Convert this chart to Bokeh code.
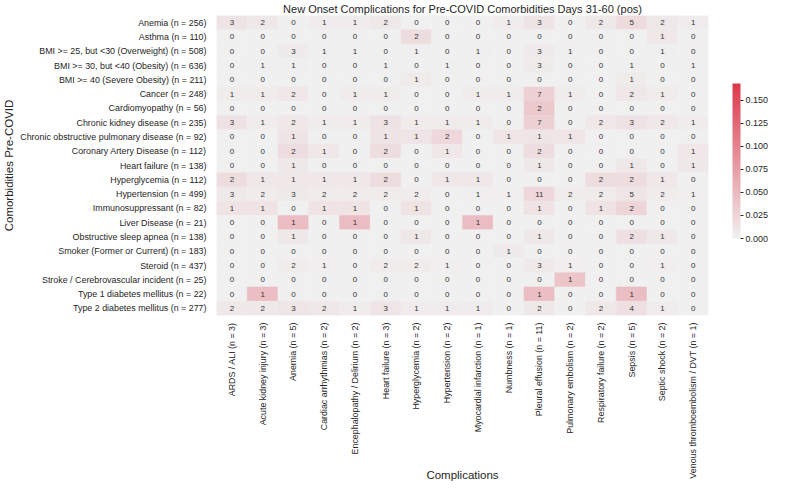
import numpy as np
from bokeh.plotting import figure
from bokeh.models import (FactorRange, LinearColorMapper, ColorBar, FixedTicker,
                          NumeralTickFormatter, ColumnDataSource)
from bokeh.core.properties import value
from bokeh.embed import file_html
from bokeh.resources import INLINE

FONT = "Liberation Sans"
TXT = "#262626"

row_names = ["Anemia", "Asthma", "BMI >= 25, but <30 (Overweight)", "BMI >= 30, but <40 (Obesity)",
             "BMI >= 40 (Severe Obesity)", "Cancer", "Cardiomyopathy", "Chronic kidney disease",
             "Chronic obstructive pulmonary disease", "Coronary Artery Disease", "Heart failure",
             "Hyperglycemia", "Hypertension", "Immunosuppressant", "Liver Disease",
             "Obstructive sleep apnea", "Smoker (Former or Current)", "Steroid",
             "Stroke / Cerebrovascular incident", "Type 1 diabetes mellitus", "Type 2 diabetes mellitus"]
row_n = [256, 110, 508, 636, 211, 248, 56, 235, 92, 112, 138, 112, 499, 82, 21, 138, 183, 437, 25, 22, 277]

col_names = ["ARDS / ALI", "Acute kidney injury", "Anemia", "Cardiac arrhythmias",
             "Encephalopathy / Delirium", "Heart failure", "Hyperglycemia", "Hypertension",
             "Myocardial infarction", "Numbness", "Pleural effusion", "Pulmonary embolism",
             "Respiratory failure", "Sepsis", "Septic shock", "Venous thromboembolism / DVT"]
col_n = [3, 3, 5, 2, 2, 3, 2, 2, 1, 1, 11, 2, 2, 5, 2, 1]

counts = [
    [3, 2, 0, 1, 1, 2, 0, 0, 0, 1, 3, 0, 2, 5, 2, 1],
    [0, 0, 0, 0, 0, 0, 2, 0, 0, 0, 0, 0, 0, 0, 1, 0],
    [0, 0, 3, 1, 1, 0, 1, 0, 1, 0, 3, 1, 0, 0, 1, 0],
    [0, 1, 1, 0, 0, 1, 0, 1, 0, 0, 3, 0, 0, 1, 0, 1],
    [0, 0, 0, 0, 0, 0, 1, 0, 0, 0, 0, 0, 0, 1, 0, 0],
    [1, 1, 2, 0, 1, 1, 0, 0, 1, 1, 7, 1, 0, 2, 1, 0],
    [0, 0, 0, 0, 0, 0, 0, 0, 0, 0, 2, 0, 0, 0, 0, 0],
    [3, 1, 2, 1, 1, 3, 1, 1, 1, 0, 7, 0, 2, 3, 2, 1],
    [0, 0, 1, 0, 0, 1, 1, 2, 0, 1, 1, 1, 0, 0, 0, 0],
    [0, 0, 2, 1, 0, 2, 0, 1, 0, 0, 2, 0, 0, 0, 0, 1],
    [0, 0, 1, 0, 0, 0, 0, 0, 0, 0, 1, 0, 0, 1, 0, 1],
    [2, 1, 1, 1, 1, 2, 0, 1, 1, 0, 0, 0, 2, 2, 1, 0],
    [3, 2, 3, 2, 2, 2, 2, 0, 1, 1, 11, 2, 2, 5, 2, 1],
    [1, 1, 0, 1, 1, 0, 1, 0, 0, 0, 1, 0, 1, 2, 0, 0],
    [0, 0, 1, 0, 1, 0, 0, 0, 1, 0, 0, 0, 0, 0, 0, 0],
    [0, 0, 1, 0, 0, 0, 1, 0, 0, 0, 1, 0, 0, 2, 1, 0],
    [0, 0, 0, 0, 0, 0, 0, 0, 0, 1, 0, 0, 0, 0, 0, 0],
    [0, 0, 2, 1, 0, 2, 2, 1, 0, 0, 3, 1, 0, 0, 1, 0],
    [0, 0, 0, 0, 0, 0, 0, 0, 0, 0, 0, 1, 0, 0, 0, 0],
    [0, 1, 0, 0, 0, 0, 0, 0, 0, 0, 1, 0, 0, 1, 0, 0],
    [2, 2, 3, 2, 1, 3, 1, 1, 1, 0, 2, 0, 2, 4, 1, 0],
]

cbar_ticks = [0.0, 0.025, 0.05, 0.075, 0.1, 0.125, 0.15]
cbar_max = 0.168

row_labels = [f"{r} (n = {n})" for r, n in zip(row_names, row_n)]
col_labels = [f"{c} (n = {n})" for c, n in zip(col_names, col_n)]

xs, ys, vs, ts = [], [], [], []
for i, rl in enumerate(row_labels):
    for j, cl in enumerate(col_labels):
        xs.append(cl)
        ys.append(rl)
        vs.append(counts[i][j] / row_n[i])
        ts.append(str(counts[i][j]))
src = ColumnDataSource(dict(x=xs, y=ys, v=vs, t=ts))

lo = np.array([240, 240, 240])
hi = np.array([221, 57, 75])
palette = []
for k in range(256):
    c = lo + (hi - lo) * k / 255.0
    palette.append("#%02x%02x%02x" % tuple(int(round(q)) for q in c))
mapper = LinearColorMapper(palette=palette, low=0, high=cbar_max)

p = figure(width=770, height=483,
           x_range=FactorRange(factors=col_labels),
           y_range=FactorRange(factors=row_labels[::-1]),
           output_backend="svg", toolbar_location=None,
           title="New Onset Complications for Pre-COVID Comorbidities Days 31-60 (pos)",
           min_border_left=0, min_border_right=62, min_border_top=0, min_border_bottom=0)

p.title.text_font = FONT
p.title.text_font_size = "11px"
p.title.text_font_style = "normal"
p.title.text_color = TXT
p.title.align = "center"
p.title.standoff = 1
p.title.offset = 10

p.rect(x="x", y="y", width=1, height=1, source=src,
       fill_color={"field": "v", "transform": mapper},
       line_color={"field": "v", "transform": mapper}, line_width=0.5)
p.text(x="x", y="y", text="t", source=src, text_align="center", text_baseline="middle",
       text_font=value(FONT), text_font_size="8px", text_color="#333333")

p.outline_line_color = None
p.grid.grid_line_color = None
for ax in (p.xaxis, p.yaxis):
    ax.axis_line_color = None
    ax.major_tick_line_color = None
    ax.minor_tick_line_color = None
    ax.major_label_text_font = FONT
    ax.major_label_text_color = TXT
    ax.axis_label_text_font = FONT
    ax.axis_label_text_font_style = "normal"
    ax.axis_label_text_color = TXT
    ax.axis_label_text_font_size = "11.5px"

p.yaxis.major_label_text_font_size = "8.9px"
p.yaxis.major_label_standoff = 4
p.yaxis.axis_label = "Comorbidities Pre-COVID"
p.yaxis.axis_label_standoff = 2

p.xaxis.major_label_text_font_size = "8.9px"
p.xaxis.major_label_orientation = np.pi / 2
p.xaxis.major_label_standoff = 1
p.xaxis.axis_label = "Complications"
p.xaxis.axis_label_standoff = -13

cb = ColorBar(color_mapper=mapper, width=8, height=155,
              ticker=FixedTicker(ticks=cbar_ticks),
              formatter=NumeralTickFormatter(format="0.000"),
              major_label_text_font=FONT, major_label_text_font_size="9px",
              major_label_text_color=TXT, label_standoff=2,
              major_tick_out=3, major_tick_in=0, major_tick_line_color=TXT,
              minor_tick_line_color=None,
              bar_line_color=None, border_line_color=None,
              background_fill_alpha=0, padding=0, margin=0,
              location=(516, 77))
p.add_layout(cb)

open("out.html", "w").write(file_html(p, INLINE))
